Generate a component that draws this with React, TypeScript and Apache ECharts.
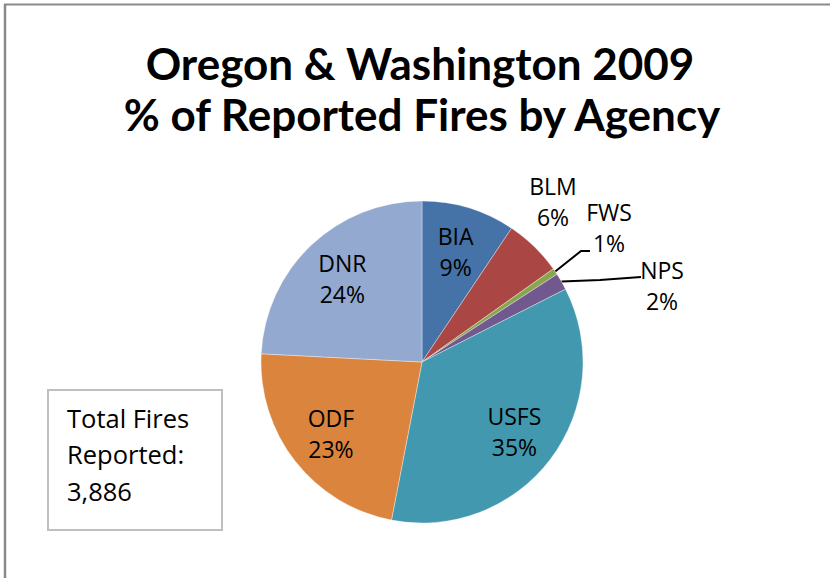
import React, { useEffect, useRef } from 'react';
import * as echarts from 'echarts';

const agencies = ['BIA', 'BLM', 'FWS', 'NPS', 'USFS', 'ODF', 'DNR'];
const fireCounts = [365, 225, 25, 66, 1380, 885, 940];
const percentLabels = ['9%', '6%', '1%', '2%', '35%', '23%', '24%'];
const sliceColors = ['#4572A7', '#AA4643', '#89A54E', '#71588F', '#4198AF', '#DB843D', '#93A9CF'];
const insideAgencies = ['BIA', 'USFS', 'ODF', 'DNR'];
const titleLines = ['Oregon & Washington 2009', '% of Reported Fires by Agency'];
const totalLines = ['Total Fires', 'Reported:', '3,886'];

const TITLE_FONT = 'Lato, "Noto Sans", sans-serif';
const FONT = '"Open Sans", "Noto Sans", sans-serif';

export default function App() {
  const ref = useRef<HTMLDivElement>(null);
  useEffect(() => {
    if (!ref.current) return;
    const chart = echarts.init(ref.current, null, { renderer: 'svg' });
    const center = [422, 362];
    const R = 161;
    const outsidePos: Record<string, number[]> = {
      BLM: [553, 201],
      FWS: [609, 227],
      NPS: [662, 285],
    };
    const guideBends: Record<string, number[][]> = {
      FWS: [[581, 251], [590, 251]],
      NPS: [[600, 280], [641, 277]],
    };
    const mainData = agencies.map((name, i) => {
      const inside = insideAgencies.includes(name);
      return {
        name,
        value: fireCounts[i],
        itemStyle: { color: sliceColors[i] },
        label: { show: !inside, position: 'outside' },
        labelLine: { show: name === 'FWS' || name === 'NPS', length: 10, length2: 10 },
      };
    });
    const ghostData = agencies.map((name, i) => ({
      name,
      value: fireCounts[i],
      label: { show: insideAgencies.includes(name) },
    }));
    const labelStyle = {
      fontFamily: FONT,
      fontSize: 23,
      lineHeight: 31,
      color: '#000',
    };
    chart.setOption({
      animation: false,
      backgroundColor: '#fff',
      graphic: [
        { type: 'line', shape: { x1: 4, y1: 4.5, x2: 830, y2: 4.5 }, style: { stroke: '#8a8a8a', lineWidth: 2 } },
        { type: 'line', shape: { x1: 5, y1: 4, x2: 5, y2: 578 }, style: { stroke: '#8a8a8a', lineWidth: 2.5 } },
        {
          type: 'text', x: 420, y: 63,
          style: { text: titleLines[0], align: 'center', verticalAlign: 'middle', fontFamily: TITLE_FONT, fontWeight: 'bold', fontSize: 44, fill: '#000' },
        },
        {
          type: 'text', x: 422, y: 114,
          style: { text: titleLines[1], align: 'center', verticalAlign: 'middle', fontFamily: TITLE_FONT, fontWeight: 'bold', fontSize: 44, fill: '#000' },
        },
        {
          type: 'rect', shape: { x: 48, y: 390, width: 174, height: 140 },
          style: { fill: '#fff', stroke: '#BFBFBF', lineWidth: 2 },
        },
        {
          type: 'text', x: 67, y: 454,
          style: { text: totalLines.join('\n'), align: 'left', verticalAlign: 'middle', fontFamily: FONT, fontSize: 25.5, lineHeight: 36.5, fill: '#000' },
        },
      ],
      series: [
        {
          type: 'pie',
          center,
          radius: R,
          startAngle: 90,
          clockwise: true,
          silent: true,
          avoidLabelOverlap: false,
          itemStyle: { borderColor: 'rgba(255,255,255,0.6)', borderWidth: 0.6 },
          label: {
            ...labelStyle,
            formatter: (p: any) => `${p.name}\n${percentLabels[p.dataIndex]}`,
          },
          labelLine: { lineStyle: { color: '#000', width: 2 } },
          labelLayout: (p: any) => {
            const name = agencies[p.dataIndex];
            const pos = outsidePos[name];
            if (!pos) return {};
            const out: any = { x: pos[0], y: pos[1], align: 'center', verticalAlign: 'middle' };
            const bends = guideBends[name];
            if (bends && p.labelLinePoints && p.labelLinePoints[0]) {
              out.labelLinePoints = [p.labelLinePoints[0], ...bends];
            }
            return out;
          },
          data: mainData,
        },
        {
          type: 'pie',
          center,
          radius: R * 1.4,
          startAngle: 90,
          clockwise: true,
          silent: true,
          avoidLabelOverlap: false,
          itemStyle: { color: 'rgba(0,0,0,0)' },
          label: {
            ...labelStyle,
            position: 'inside',
            formatter: (p: any) => `${p.name}\n${percentLabels[p.dataIndex]}`,
          },
          labelLine: { show: false },
          data: ghostData,
        },
      ],
    });
    return () => chart.dispose();
  }, []);
  return <div ref={ref} style={{ position: 'absolute', left: 0, top: 0, width: 830, height: 578 }} />;
}
